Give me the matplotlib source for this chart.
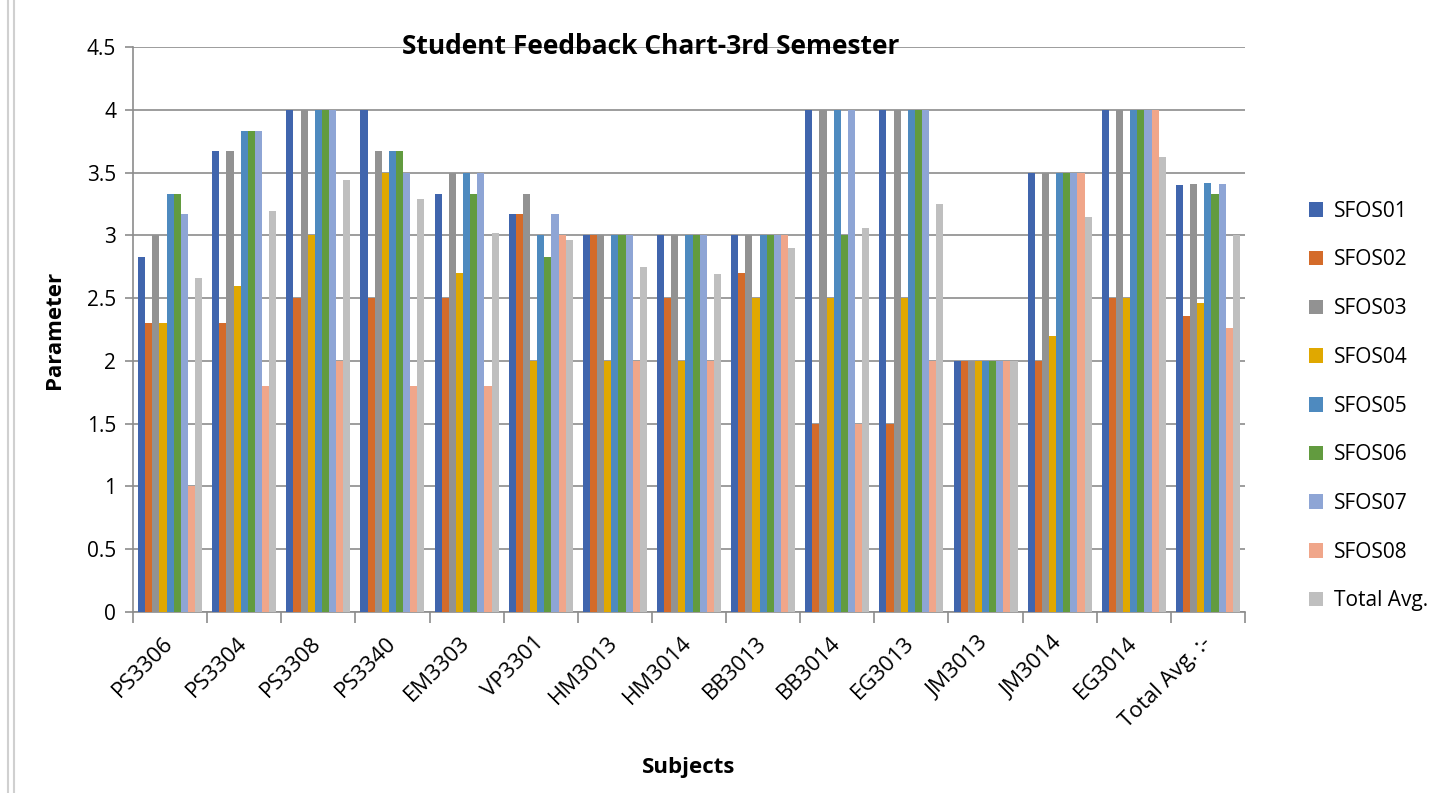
import numpy as np
import matplotlib.pyplot as plt
from matplotlib.lines import Line2D

subjects = ["PS3306", "PS3304", "PS3308", "PS3340", "EM3303", "VP3301", "HM3013",
            "HM3014", "BB3013", "BB3014", "EG3013", "JM3013", "JM3014", "EG3014",
            "Total Avg. :-"]

sfos01 = [2.83, 3.67, 4.0, 4.0, 3.33, 3.17, 3.0, 3.0, 3.0, 4.0, 4.0, 2.0, 3.5, 4.0, 3.40]
sfos02 = [2.3, 2.3, 2.5, 2.5, 2.5, 3.17, 3.0, 2.5, 2.7, 1.5, 1.5, 2.0, 2.0, 2.5, 2.36]
sfos03 = [3.0, 3.67, 4.0, 3.67, 3.5, 3.33, 3.0, 3.0, 3.0, 4.0, 4.0, 2.0, 3.5, 4.0, 3.41]
sfos04 = [2.3, 2.6, 3.0, 3.5, 2.7, 2.0, 2.0, 2.0, 2.5, 2.5, 2.5, 2.0, 2.2, 2.5, 2.46]
sfos05 = [3.33, 3.83, 4.0, 3.67, 3.5, 3.0, 3.0, 3.0, 3.0, 4.0, 4.0, 2.0, 3.5, 4.0, 3.42]
sfos06 = [3.33, 3.83, 4.0, 3.67, 3.33, 2.83, 3.0, 3.0, 3.0, 3.0, 4.0, 2.0, 3.5, 4.0, 3.33]
sfos07 = [3.17, 3.83, 4.0, 3.5, 3.5, 3.17, 3.0, 3.0, 3.0, 4.0, 4.0, 2.0, 3.5, 4.0, 3.41]
sfos08 = [1.0, 1.8, 2.0, 1.8, 1.8, 3.0, 2.0, 2.0, 3.0, 1.5, 2.0, 2.0, 3.5, 4.0, 2.26]
total_avg = [2.66, 3.19, 3.44, 3.29, 3.02, 2.96, 2.75, 2.69, 2.90, 3.06, 3.25, 2.0, 3.15, 3.62, 3.0]

series = [sfos01, sfos02, sfos03, sfos04, sfos05, sfos06, sfos07, sfos08, total_avg]
names = ["SFOS01", "SFOS02", "SFOS03", "SFOS04", "SFOS05", "SFOS06", "SFOS07", "SFOS08", "Total Avg."]
colors = ["#4065AD", "#D46B2A", "#929292", "#E0A800", "#4E8ABF", "#629B3F",
          "#8EA5D5", "#F0A68A", "#BFBFBF"]

plt.rcParams['font.family'] = ['Open Sans', 'DejaVu Sans']

fig = plt.figure(figsize=(14.56, 7.93), dpi=100)
ax = fig.add_axes([133 / 1456, 1 - 612 / 793, (1245 - 133) / 1456, (612 - 47) / 793])

x = np.arange(len(subjects))
bw = 0.096
for i, (vals, name, col) in enumerate(zip(series, names, colors)):
    ax.bar(x + (i - 4) * bw, vals, width=bw, color=col, label=name, zorder=3)

ax.set_xlim(-0.5, len(subjects) - 0.5)
ax.set_ylim(0, 4.5)
ax.set_yticks(np.arange(0, 4.51, 0.5))
ax.set_yticklabels(["0", "0.5", "1", "1.5", "2", "2.5", "3", "3.5", "4", "4.5"])
ax.yaxis.grid(True, color="#8C8C8C", linewidth=1.2, zorder=0)

ax.set_xticks(x)
ax.set_xticklabels(subjects, rotation=45, ha="right", va="center", rotation_mode="anchor")
ax.set_xticks(np.arange(-0.5, len(subjects), 1), minor=True)
ax.tick_params(axis="x", which="major", length=0, pad=20, labelsize=16)
ax.tick_params(axis="x", which="minor", length=8, color="#8C8C8C", width=1.2)
ax.tick_params(axis="y", length=6, color="#8C8C8C", width=1.2, labelsize=15, pad=6)

for s in ["top", "right"]:
    ax.spines[s].set_visible(False)
for s in ["left", "bottom"]:
    ax.spines[s].set_color("#8C8C8C")
    ax.spines[s].set_linewidth(1.2)

ax.set_ylabel("Parameter", fontsize=16, fontweight="bold", labelpad=16)
fig.text(689 / 1456, 1 - 768 / 793, "Subjects", fontsize=16, fontweight="bold",
         ha="center", va="center")
fig.text(651 / 1456, 1 - 47 / 793, "Student Feedback Chart-3rd Semester",
         fontsize=19, fontweight="bold", ha="center", va="center")

fig.legend(loc="center left", bbox_to_anchor=(1290 / 1456, 1 - 406 / 793),
           frameon=False, fontsize=15, handlelength=0.7, handleheight=0.7,
           labelspacing=1.33, handletextpad=0.5)

# light double frame line on the left edge
for xe in (8 / 1456, 14 / 1456):
    fig.lines.append(Line2D([xe, xe], [0, 1], transform=fig.transFigure,
                            color="#D0D0D0", linewidth=1.5))

plt.savefig("out.png", dpi=100)
plt.close()
